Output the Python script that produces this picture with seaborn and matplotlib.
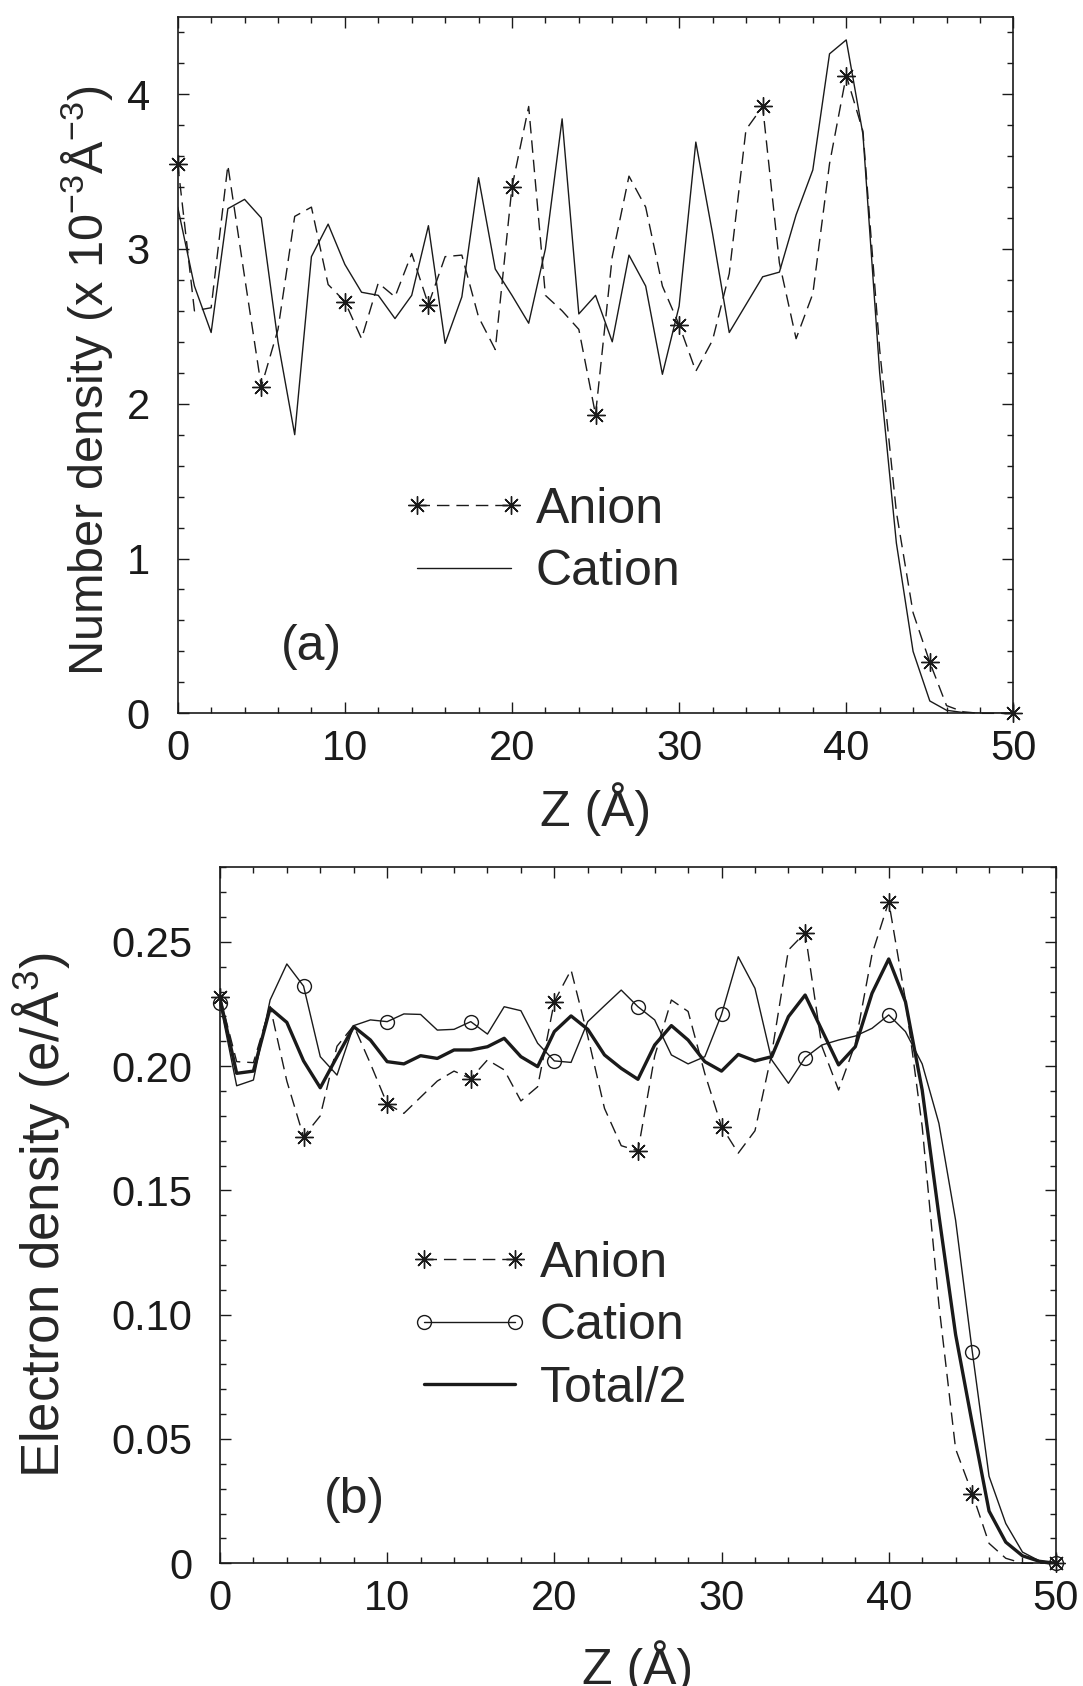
import numpy as np
import pandas as pd
import matplotlib
matplotlib.use("Agg")
import matplotlib.pyplot as plt
from matplotlib.lines import Line2D
from matplotlib.legend_handler import HandlerLine2D
from matplotlib.ticker import MultipleLocator, FixedLocator, FixedFormatter
import seaborn as sns

# perfiles de densidad, muestreados cada 1 A
z = list(range(51))

# (a) densidad numerica (x 10^-3 A^-3)
anion_a = [3.55, 2.60, 2.62, 3.54, 2.82, 2.11, 2.48, 3.21, 3.27, 2.77,
           2.66, 2.42, 2.78, 2.69, 2.97, 2.64, 2.95, 2.96, 2.56, 2.35,
           3.40, 3.92, 2.70, 2.60, 2.48, 1.93, 2.95, 3.47, 3.27, 2.76,
           2.51, 2.21, 2.41, 2.84, 3.77, 3.92, 2.91, 2.42, 2.71, 3.55,
           4.12, 3.76, 2.35, 1.30, 0.65, 0.33, 0.05, 0.01, 0, 0, 0]
cation_a = [3.27, 2.76, 2.46, 3.26, 3.32, 3.20, 2.40, 1.80, 2.95, 3.16,
            2.90, 2.72, 2.70, 2.55, 2.70, 3.15, 2.39, 2.69, 3.46, 2.87,
            2.70, 2.52, 3.00, 3.84, 2.58, 2.70, 2.40, 2.96, 2.76, 2.19,
            2.63, 3.69, 3.10, 2.46, 2.64, 2.82, 2.85, 3.22, 3.51, 4.26,
            4.35, 3.74, 2.20, 1.10, 0.40, 0.08, 0.02, 0.005, 0, 0, 0]

# (b) densidad electronica (e/A^3)
anion_b = [0.228, 0.2018, 0.2014, 0.224, 0.194, 0.1716, 0.180, 0.208, 0.2163, 0.201,
           0.1848, 0.181, 0.1875, 0.194, 0.198, 0.195, 0.2025, 0.1985, 0.186, 0.1917,
           0.226, 0.2387, 0.212, 0.183, 0.168, 0.1659, 0.204, 0.2266, 0.222, 0.197,
           0.1757, 0.165, 0.174, 0.205, 0.2467, 0.2537, 0.208, 0.1904, 0.209, 0.245,
           0.2662, 0.2266, 0.1757, 0.104, 0.046, 0.028, 0.008, 0.002, 0, 0, 0]
cation_b = [0.2255, 0.1921, 0.1944, 0.2266, 0.2411, 0.2322, 0.2038, 0.1964, 0.2163, 0.2186,
            0.2179, 0.221, 0.2208, 0.2145, 0.2148, 0.2179, 0.2129, 0.2239, 0.2223, 0.2092,
            0.2021, 0.2015, 0.2179, 0.2243, 0.2306, 0.2239, 0.2186, 0.2045, 0.2009, 0.2038,
            0.2208, 0.244, 0.2313, 0.2025, 0.1931, 0.2034, 0.2085, 0.2105, 0.2121, 0.2152,
            0.2206, 0.2139, 0.2009, 0.177, 0.138, 0.085, 0.035, 0.016, 0.0045, 0.001, 0]
total_b = [0.2273, 0.1971, 0.198, 0.2233, 0.2176, 0.2021, 0.1913, 0.2038, 0.2159, 0.2105,
           0.2018, 0.2009, 0.2042, 0.2031, 0.2065, 0.2065, 0.2078, 0.2112, 0.2038, 0.1998,
           0.2139, 0.2202, 0.2148, 0.2045, 0.1991, 0.1947, 0.2085, 0.2163, 0.2105, 0.2018,
           0.198, 0.2047, 0.2021, 0.2038, 0.2199, 0.2286, 0.2145, 0.2005, 0.2078, 0.2293,
           0.2431, 0.2259, 0.1904, 0.140, 0.092, 0.056, 0.021, 0.0085, 0.003, 0.0008, 0]

yticks_b = [0, 0.05, 0.10, 0.15, 0.20, 0.25]
yticklabels_b = ["0", "0.05", "0.10", "0.15", "0.20", "0.25"]

"""
ESTILO
"""
sns.set_theme(style="ticks")
plt.rcParams['font.family'] = ['Liberation Sans', 'DejaVu Sans']
plt.rcParams['mathtext.default'] = 'regular'

ESTRELLA = (8, 2, 0)
DASH = (0, (9, 5))
fs_tick = 30
fs_lab = 36
fs_leg = 36

fig = plt.figure(figsize=(10.83, 16.86), dpi=100)
ax1 = fig.add_axes([0.1641, 0.5769, 0.7716, 0.4132])
ax2 = fig.add_axes([0.2031, 0.0728, 0.7719, 0.4128])

# marcadores en los extremos del trazo de la leyenda
sin_pad = {Line2D: HandlerLine2D(marker_pad=0)}


def formato(ax):
    ax.set_xlim(0, 50)
    ax.xaxis.set_major_locator(MultipleLocator(10))
    ax.xaxis.set_minor_locator(MultipleLocator(2))
    ax.tick_params(which='both', direction='in', top=True, right=True,
                   width=1.0, colors='k')
    ax.tick_params(which='major', length=8, labelsize=fs_tick)
    ax.tick_params(which='minor', length=4)
    ax.tick_params(axis='x', which='major', pad=11)
    ax.tick_params(axis='y', which='major', pad=20)
    for s in ax.spines.values():
        s.set_linewidth(1.2)
        s.set_color('k')


"""
PANEL (a)
"""
sns.lineplot(x=z, y=anion_a, ax=ax1, color='k', lw=1.0, linestyle=DASH,
             marker=ESTRELLA, markersize=13, markeredgecolor='k',
             markeredgewidth=1.0, markevery=5, clip_on=False, label='Anion')
sns.lineplot(x=z, y=cation_a, ax=ax1, color='k', lw=1.0, label='Cation')
formato(ax1)
ax1.set_ylim(0, 4.5)
ax1.yaxis.set_major_locator(MultipleLocator(1))
ax1.yaxis.set_minor_locator(MultipleLocator(0.2))
ax1.set_xlabel('Z (Å)', fontsize=fs_lab)
ax1.set_ylabel('Number density (x 10$^{-3}$Å$^{-3}$)', fontsize=35)
ax1.xaxis.set_label_coords(0.5, -0.099)
ax1.yaxis.set_label_coords(-0.075, 0.478)
ax1.text(8, 0.43, '(a)', ha='center', va='center', fontsize=fs_leg)
ax1.legend(loc='upper left', bbox_to_anchor=(0.2864, 0.325), frameon=False,
           fontsize=fs_leg, numpoints=2, borderpad=0, borderaxespad=0,
           handlelength=1.87, handletextpad=0.5, labelspacing=0.33,
           handler_map=sin_pad)

"""
PANEL (b)
"""
sns.lineplot(x=z, y=anion_b, ax=ax2, color='k', lw=1.0, linestyle=DASH,
             marker=ESTRELLA, markersize=13, markeredgecolor='k',
             markeredgewidth=1.0, markevery=5, clip_on=False, label='Anion')
sns.lineplot(x=z, y=cation_b, ax=ax2, color='k', lw=1.0,
             marker='o', markersize=10, markerfacecolor='none',
             markeredgecolor='k', markeredgewidth=1.0, markevery=5,
             clip_on=False, label='Cation')
sns.lineplot(x=z, y=total_b, ax=ax2, color='k', lw=2.4, label='Total/2')
formato(ax2)
ax2.set_ylim(0, 0.28)
ax2.yaxis.set_major_locator(FixedLocator(yticks_b))
ax2.yaxis.set_major_formatter(FixedFormatter(yticklabels_b))
ax2.yaxis.set_minor_locator(MultipleLocator(0.01))
ax2.set_xlabel('Z (Å)', fontsize=fs_lab)
ax2.set_ylabel('Electron density (e/Å$^{3}$)', fontsize=38)
ax2.xaxis.set_label_coords(0.5, -0.110)
ax2.yaxis.set_label_coords(-0.1765, 0.5)
ax2.text(8.07, 0.0255, '(b)', ha='center', va='center', fontsize=fs_leg)
ax2.legend(loc='upper left', bbox_to_anchor=(0.244, 0.4635), frameon=False,
           fontsize=fs_leg, numpoints=2, borderpad=0, borderaxespad=0,
           handlelength=1.82, handletextpad=0.5, labelspacing=0.33,
           handler_map=sin_pad)

plt.savefig('out.png', dpi=100)
